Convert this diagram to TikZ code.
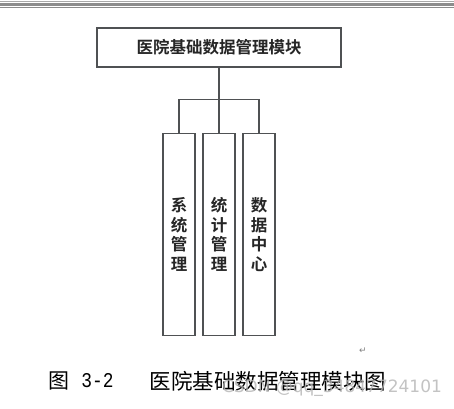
\documentclass[tikz,border=0pt]{standalone}
\usepackage{fontspec}
\newfontfamily\cjk{Noto Sans CJK SC}
\newfontfamily\cjkb{Noto Sans CJK SC Bold}
\newfontfamily\mono[FakeStretch=0.85]{Liberation Mono}
\newfontfamily\dejavu{DejaVu Sans}
\definecolor{linec}{HTML}{4F5153}
\definecolor{rulec}{HTML}{8C8C8C}
\definecolor{rulel}{HTML}{A8A8A8}
\definecolor{wmc}{HTML}{B4B4B4}
\tikzset{
  box/.style={draw=linec, line width=1.3pt, fill=white, inner sep=0pt, text=black!85},
  topbox/.style={box, minimum width=244pt, minimum height=39pt, font=\cjkb\fontsize{16.5}{18}\selectfont},
  vbox/.style={box, minimum width=32pt, minimum height=202pt, align=center, font=\cjkb\fontsize{16.5}{19.5}\selectfont},
  conn/.style={draw=linec, line width=1.3pt},
  captext/.style={inner sep=0pt, text=black},
}
\begin{document}
\begin{tikzpicture}[x=1pt,y=-1pt]
\useasboundingbox[fill=white] (0,0) rectangle (454,408);
% top rules
\fill[rulel] (0,0.5) rectangle (454,1.6);
\fill[rulec] (0,3.2) rectangle (454,5.6);
\fill[rulec] (0,7.0) rectangle (454,8.2);
% nodes
\node[topbox] (top) at (219,47.5) {医院基础数据管理模块};
\node[vbox] (a) at (179,234.5) {系\\统\\管\\理};
\node[vbox] (b) at (219,234.5) {统\\计\\管\\理};
\node[vbox] (c) at (259,234.5) {数\\据\\中\\心};
\coordinate (j) at (219,99.5);
\draw[conn] (top.south) -- (j);
\draw[conn] (a.north) |- (j) -| (c.north);
\draw[conn] (j) -- (b.north);
% caption
\node[captext, font=\cjk\fontsize{21}{22}\selectfont] (c1) at (59,381) {图};
\node[captext, font=\mono\fontsize{21}{22}\selectfont] (c2) at (97.5,381) {3-2};
\node[captext, font=\cjk\fontsize{21.5}{22}\selectfont] (c3) at (268,381) {医院基础数据管理模块图};
\node[captext, text=gray, font=\dejavu\fontsize{9}{10}\selectfont] (ret) at (363,350.5) {↵};
\node[captext, text=wmc, opacity=0.8, font=\dejavu\fontsize{17}{18}\selectfont] (wm) at (332,388) {CSDN @qq\_34847724101};
\end{tikzpicture}
\end{document}
